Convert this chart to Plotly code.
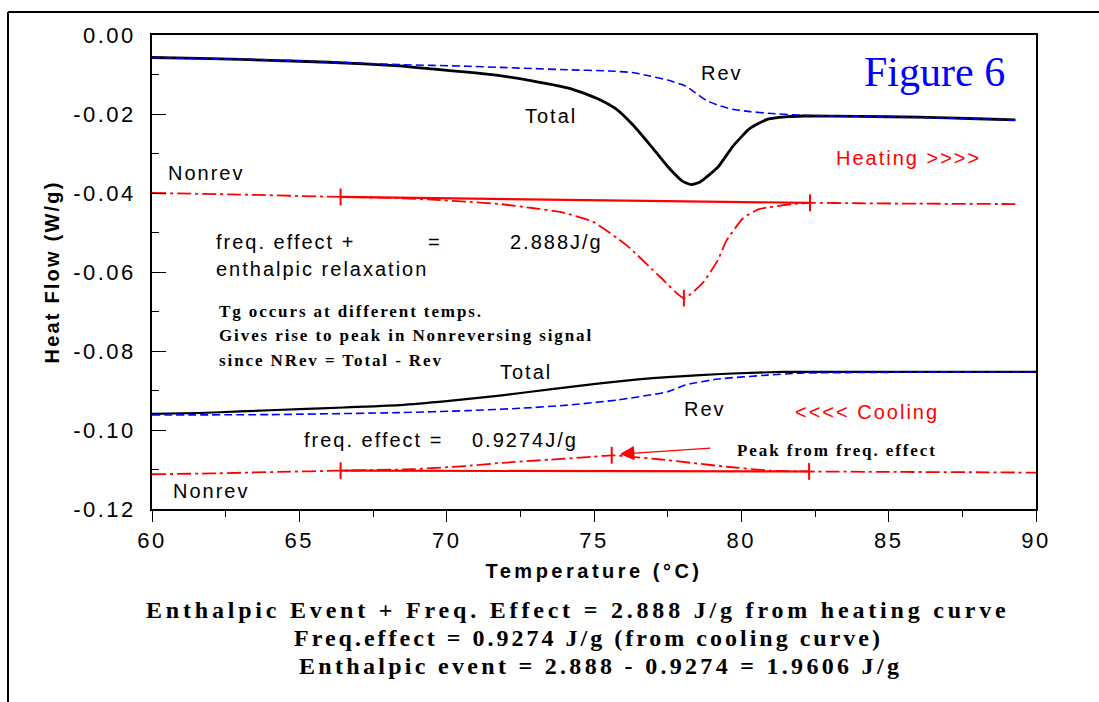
import plotly.graph_objects as go

# ---------------- data ----------------
# Heating run
heat_T_total = [60.0, 62.0, 64.0, 66.0, 68.4, 69.5, 70.7, 71.8, 72.9, 74.1, 74.6, 75.2, 75.8, 76.3, 76.9,
                77.5, 78.0, 78.3, 78.6, 79.2, 79.7, 80.3, 80.9, 81.5, 82.1, 84.0, 86.0, 88.0, 89.3]
heat_total = [-0.0057, -0.0060, -0.0064, -0.0069, -0.0078, -0.0086, -0.0094, -0.0103, -0.0116, -0.0134,
              -0.0146, -0.0164, -0.0190, -0.0226, -0.0278, -0.0333, -0.0370, -0.0379, -0.0372, -0.0335,
              -0.0283, -0.0236, -0.0213, -0.0207, -0.0205, -0.0206, -0.0208, -0.0212, -0.0215]

heat_T_rev = [60.0, 64.0, 68.4, 70.7, 71.8, 74.1, 75.5, 76.3, 76.9, 77.5, 78.1, 78.4, 78.8, 79.3, 79.7,
              80.3, 80.9, 82.0, 84.0, 86.0, 88.0, 89.3]
heat_rev = [-0.0057, -0.0063, -0.0075, -0.0079, -0.0082, -0.0088, -0.0091, -0.0095, -0.0104, -0.0114,
            -0.0129, -0.0144, -0.0165, -0.0180, -0.0188, -0.0194, -0.0198, -0.0203, -0.0206, -0.0209,
            -0.0212, -0.0216]

heat_T_nonrev = [60.0, 63.0, 66.4, 68.4, 69.5, 70.7, 71.8, 72.9, 73.85, 74.97, 76.1, 77.24, 78.05, 78.7,
                 79.2, 79.5, 80.06, 80.6, 81.75, 82.33, 84.0, 86.0, 89.3]
heat_nonrev = [-0.0400, -0.0404, -0.0410, -0.0413, -0.0417, -0.0422, -0.0428, -0.0438, -0.0448, -0.0473,
               -0.0532, -0.0612, -0.0666, -0.0627, -0.0570, -0.0520, -0.0464, -0.0441, -0.0428, -0.0425,
               -0.0426, -0.0427, -0.0428]

heat_base_T = [66.4, 82.33]
heat_base = [-0.0410, -0.0425]
heat_mark_T = [66.4, 78.05, 82.33]
heat_mark = [-0.0410, -0.0666, -0.0425]

# Cooling run
cool_T_total = [60.0, 61.6, 63.0, 65.0, 66.5, 68.4, 70.0, 71.8, 73.5, 75.2, 76.5, 77.5, 78.6, 79.7, 81.4,
                84.0, 87.0, 90.0]
cool_total = [-0.0959, -0.0957, -0.0953, -0.0947, -0.0943, -0.0937, -0.0927, -0.0913, -0.0897, -0.0882,
              -0.0872, -0.0866, -0.0861, -0.0857, -0.0853, -0.0853, -0.0853, -0.0853]

cool_T_rev = [60.0, 64.0, 68.4, 70.7, 72.5, 74.1, 75.8, 77.5, 78.1, 79.2, 80.9, 82.0, 85.0, 90.0]
cool_rev = [-0.0962, -0.0961, -0.0956, -0.0951, -0.0945, -0.0937, -0.0924, -0.0903, -0.0886, -0.0871,
            -0.0861, -0.0856, -0.0854, -0.0853]

cool_T_nonrev = [60.0, 62.0, 64.3, 66.4, 68.9, 70.5, 71.9, 73.5, 74.9, 75.6, 76.3, 77.2, 78.4, 79.5, 81.0,
                 82.3, 85.0, 88.0, 90.0]
cool_nonrev = [-0.1112, -0.1110, -0.1106, -0.1103, -0.1099, -0.1092, -0.1083, -0.1075, -0.1068, -0.1064,
               -0.1068, -0.1074, -0.1084, -0.1093, -0.1103, -0.1105, -0.1106, -0.1107, -0.1108]

cool_base_T = [66.4, 82.3]
cool_base = [-0.1103, -0.1105]
cool_mark_T = [66.4, 75.6, 82.3]
cool_mark = [-0.1103, -0.1064, -0.1105]

# Axis ticks
x_tickvals = [60, 65, 70, 75, 80, 85, 90]
x_ticklabels = ["60", "65", "70", "75", "80", "85", "90"]
y_tickvals = [0.0, -0.02, -0.04, -0.06, -0.08, -0.10, -0.12]
y_ticklabels = ["0.00", "-0.02", "-0.04", "-0.06", "-0.08", "-0.10", "-0.12"]

SANS = "Liberation Sans, Arial, sans-serif"
SERIF = "Liberation Serif, Times New Roman, serif"
RED = "#ff0000"
BLUE = "#0000ff"


def sp(text, px):
    return f'<span style="letter-spacing:{px}px">{text}</span>'


fig = go.Figure()

dashdot = "14px,4px,3px,4px"

# Heating
fig.add_trace(go.Scatter(x=heat_T_total, y=heat_total, mode="lines", line=dict(color="black", width=2.8, shape="spline", smoothing=0.5), showlegend=False))
fig.add_trace(go.Scatter(x=heat_T_rev, y=heat_rev, mode="lines", line=dict(color=BLUE, width=1.6, dash="8px,4px", shape="spline", smoothing=0.5), showlegend=False))
fig.add_trace(go.Scatter(x=heat_T_nonrev, y=heat_nonrev, mode="lines", line=dict(color=RED, width=1.8, dash=dashdot, shape="spline", smoothing=0.5), showlegend=False))
fig.add_trace(go.Scatter(x=heat_base_T, y=heat_base, mode="lines", line=dict(color=RED, width=2.2), showlegend=False))
fig.add_trace(go.Scatter(x=heat_mark_T, y=heat_mark, mode="markers", marker=dict(symbol="line-ns", size=12, line=dict(color=RED, width=2)), showlegend=False))

# Cooling
fig.add_trace(go.Scatter(x=cool_T_total, y=cool_total, mode="lines", line=dict(color="black", width=2.2, shape="spline", smoothing=0.5), showlegend=False))
fig.add_trace(go.Scatter(x=cool_T_rev, y=cool_rev, mode="lines", line=dict(color=BLUE, width=1.6, dash="8px,4px", shape="spline", smoothing=0.5), showlegend=False))
fig.add_trace(go.Scatter(x=cool_T_nonrev, y=cool_nonrev, mode="lines", line=dict(color=RED, width=1.8, dash=dashdot, shape="spline", smoothing=0.5), showlegend=False))
fig.add_trace(go.Scatter(x=cool_base_T, y=cool_base, mode="lines", line=dict(color=RED, width=2.2), showlegend=False))
fig.add_trace(go.Scatter(x=cool_mark_T, y=cool_mark, mode="markers", marker=dict(symbol="line-ns", size=12, line=dict(color=RED, width=2)), showlegend=False))

ann = []


def txt(x, y, text, size=20, color="black", family=SANS, xanchor="center", spacing=2):
    ann.append(dict(x=x, y=y, xref="x", yref="y", text=sp(text, spacing) if spacing else text,
                    showarrow=False, xanchor=xanchor, yanchor="middle",
                    font=dict(family=family, size=size, color=color)))


txt(79.34, -0.0096, "Rev")
txt(73.54, -0.0205, "Total")
txt(86.54, -0.0094, "Figure 6", size=42, color=BLUE, family=SERIF, spacing=0)
txt(85.66, -0.0311, "Heating &gt;&gt;&gt;&gt;", color=RED)
txt(61.83, -0.0349, "Nonrev")
txt(62.10, -0.0524, "freq. effect +", xanchor="left")
txt(69.60, -0.0524, "=")
txt(72.08, -0.0524, "2.888J/g", xanchor="left")
txt(62.10, -0.0592, "enthalpic relaxation", xanchor="left")
txt(62.21, -0.0699, "<b>Tg occurs at different temps.</b>", size=17, family=SERIF, xanchor="left", spacing=1.9)
txt(62.21, -0.0762, "<b>Gives rise to peak in Nonreversing signal</b>", size=17, family=SERIF, xanchor="left", spacing=1.9)
txt(62.21, -0.0823, "<b>since NRev = Total - Rev</b>", size=17, family=SERIF, xanchor="left", spacing=1.9)
txt(72.69, -0.0853, "Total")
txt(78.77, -0.0947, "Rev")
txt(84.26, -0.0954, "&lt;&lt;&lt;&lt; Cooling", color=RED)
txt(65.09, -0.1025, "freq. effect =", xanchor="left")
txt(70.79, -0.1025, "0.9274J/g", xanchor="left")
txt(79.78, -0.1053, "<b>Peak from freq. effect</b>", size=17, family=SERIF, xanchor="left", spacing=1.9)
txt(62.00, -0.1154, "Nonrev")

# arrow
ann.append(dict(x=75.88, y=-0.1061, xref="x", yref="y", ax=92, ay=-6, axref="pixel", ayref="pixel",
                text="", showarrow=True, arrowhead=2, arrowsize=2.4, arrowwidth=1.2, arrowcolor=RED))

# bottom text
bottom_lines = [
    ("Enthalpic Event + Freq. Effect = 2.888 J/g from heating curve", 578, 610, 3.8),
    ("Freq.effect = 0.9274 J/g (from cooling curve)", 588, 638, 3.0),
    ("Enthalpic event = 2.888 - 0.9274 = 1.9606 J/g", 600, 666, 3.3),
]
for t, cx, cy, ls in bottom_lines:
    ann.append(dict(x=(cx - 152) / 884, y=(509 - cy) / 474, xref="paper", yref="paper",
                    text="<b>" + sp(t, ls) + "</b>", showarrow=False, xanchor="center", yanchor="middle",
                    font=dict(family=SERIF, size=24, color="black")))

shapes = [
    dict(type="line", xref="paper", yref="paper", x0=(8 - 152) / 884, x1=(8 - 152) / 884,
         y0=(509 - 12) / 474, y1=(509 - 702) / 474, line=dict(color="black", width=2)),
    dict(type="line", xref="paper", yref="paper", x0=(8 - 152) / 884, x1=(1099 - 152) / 884,
         y0=(509 - 12) / 474, y1=(509 - 12) / 474, line=dict(color="black", width=2)),
]

fig.update_layout(
    width=1099, height=702,
    margin=dict(l=152, r=63, t=35, b=193, autoexpand=False),
    paper_bgcolor="white", plot_bgcolor="white",
    annotations=ann, shapes=shapes,
    xaxis=dict(range=[60, 90], tickvals=x_tickvals, ticktext=[sp(t, 2.5) for t in x_ticklabels],
               ticks="outside", ticklen=11, tickwidth=1, tickcolor="black",
               minor=dict(dtick=2.5, ticks="outside", ticklen=6, tickcolor="black", tickwidth=1),
               showline=True, linecolor="black", linewidth=1.5, mirror=True, showgrid=False, zeroline=False,
               tickfont=dict(family=SANS, size=22, color="black"),
               title=dict(text="<b>" + sp("Temperature (°C)", 3.5) + "</b>", standoff=12,
                          font=dict(family=SANS, size=20, color="black"))),
    yaxis=dict(range=[-0.12, 0.0], tickvals=y_tickvals, ticktext=[sp(t, 2.5) for t in y_ticklabels],
               ticks="inside", ticklen=14, tickwidth=1, tickcolor="black",
               minor=dict(dtick=0.01, ticks="inside", ticklen=7, tickcolor="black", tickwidth=1),
               showline=True, linecolor="black", linewidth=1.5, mirror=True, showgrid=False, zeroline=False,
               tickfont=dict(family=SANS, size=22, color="black"), ticklabelstandoff=10,
               title=dict(text="<b>" + sp("Heat Flow (W/g)", 2.2) + "</b>", standoff=8,
                          font=dict(family=SANS, size=20, color="black"))),
)

fig.write_html("out.html")
